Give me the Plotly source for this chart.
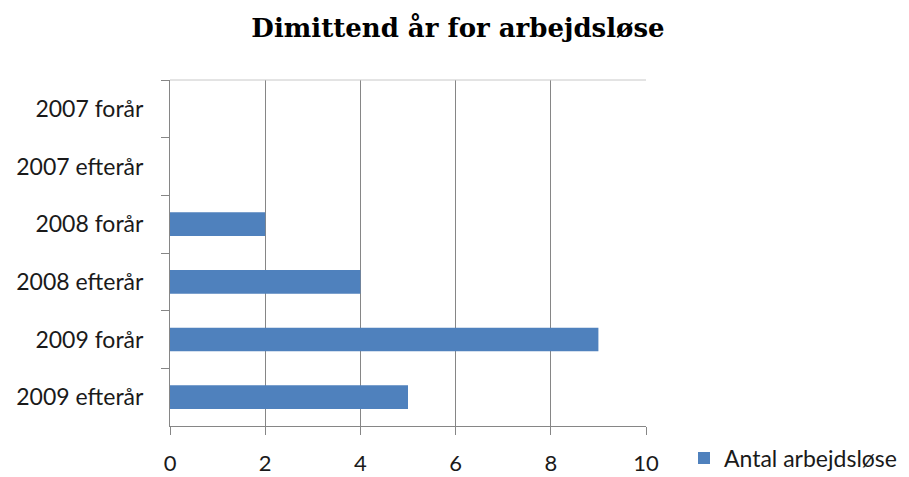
import plotly.graph_objects as go

categories = ["2007 forår", "2007 efterår", "2008 forår", "2008 efterår", "2009 forår", "2009 efterår"]
values = [0, 0, 2, 4, 9, 5]
series_name = "Antal arbejdsløse"
title_text = "Dimittend år for arbejdsløse"
x_ticks = [0, 2, 4, 6, 8, 10]

fig = go.Figure()
fig.add_trace(go.Bar(
    y=categories, x=values, orientation="h", name=series_name,
    marker=dict(color="#4F81BD", line=dict(width=0)),
    showlegend=True,
))

axis_col = "#868686"
fig.update_layout(
    width=909, height=477,
    margin=dict(l=170, r=263, t=80, b=51, autoexpand=False),
    paper_bgcolor="white", plot_bgcolor="white",
    title=dict(text=f"<b>{title_text}</b>", x=458/909, xanchor="center", y=1-28/477, yanchor="middle",
               font=dict(family="DejaVu Serif", size=26, color="black")),
    font=dict(family="Lato", size=23, color="#1a1a1a"),
    bargap=0.59,
    xaxis=dict(range=[0, 10], tickvals=x_ticks, showgrid=True, gridcolor=axis_col, gridwidth=1,
               showline=True, linecolor=axis_col, linewidth=1, ticks="outside", ticklen=8,
               tickcolor=axis_col, zeroline=False, tickfont=dict(size=22), fixedrange=True,
               automargin=False, ticklabelstandoff=10),
    yaxis=dict(categoryorder="array", categoryarray=categories, autorange="reversed",
               showline=True, linecolor=axis_col, linewidth=1, ticks="outside", ticklen=8,
               tickcolor=axis_col, tickson="boundaries", showgrid=False, tickfont=dict(size=23),
               ticklabelstandoff=21, automargin=False, fixedrange=True),
    legend=dict(x=(684-170)/476, xanchor="left", y=-0.0925, yanchor="middle", font=dict(size=23),
                bgcolor="rgba(0,0,0,0)", itemwidth=30),
    shapes=[dict(type="line", xref="paper", yref="paper", x0=0, x1=1, y0=1, y1=1,
                 line=dict(color="#c8c8c8", width=1))],
)
fig.write_html("out.html", config={"displayModeBar": False},
               post_script="document.body.style.margin='0';document.body.style.padding='0';")
